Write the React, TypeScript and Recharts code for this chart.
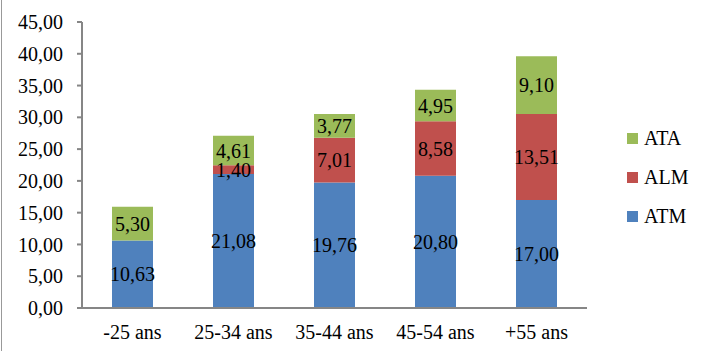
import React from "react";
import { Bar, BarChart, LabelList, Legend, XAxis, YAxis } from "recharts";

const categories = ["-25 ans", "25-34 ans", "35-44 ans", "45-54 ans", "+55 ans"];
const atm = [10.63, 21.08, 19.76, 20.8, 17.0];
const alm = [null, 1.4, 7.01, 8.58, 13.51];
const ata = [5.3, 4.61, 3.77, 4.95, 9.1];
const yTicks = [0, 5, 10, 15, 20, 25, 30, 35, 40, 45];

const data = categories.map((name, i) => ({
  name,
  idx: i,
  ATM: atm[i],
  ALM: alm[i],
  ATA: ata[i],
}));

const fmt = (v: any) => (v == null ? "" : Number(v).toFixed(2).replace(".", ","));

const font = "serif";
const axisColor = "#868686";

const legendItems = [
  { name: "ATA", color: "#9BBB59" },
  { name: "ALM", color: "#C0504D" },
  { name: "ATM", color: "#4F81BD" },
];

function LegendBox() {
  return (
    <div style={{ fontFamily: font, fontSize: 20, color: "#000", whiteSpace: "nowrap", width: 80 }}>
      {legendItems.map((it) => (
        <div key={it.name} style={{ height: 39, display: "flex", alignItems: "center" }}>
          <span
            style={{
              display: "inline-block",
              flexShrink: 0,
              width: 11,
              height: 11,
              background: it.color,
              marginRight: 6,
            }}
          />
          <span>{it.name}</span>
        </div>
      ))}
    </div>
  );
}

function App() {
  const labelStyle = { fontFamily: font, fontSize: 20, fill: "#000" };
  return (
    <div style={{ position: "fixed", left: 0, top: 0, width: 711, height: 351, background: "#fff" }}>
      <div style={{ position: "absolute", left: 1, top: 0, width: 1, height: 351, background: "#999" }} />
      <BarChart
        width={711}
        height={351}
        data={data}
        margin={{ top: 22, right: 124, bottom: 0, left: 0 }}
        barSize={41}
        style={{ fontFamily: font }}
      >
        <XAxis
          xAxisId="ticks"
          type="number"
          dataKey="idx"
          domain={[0, 5]}
          ticks={[0, 1, 2, 3, 4, 5]}
          height={0}
          tick={false}
          tickSize={5}
          axisLine={false}
          tickLine={{ stroke: axisColor, strokeWidth: 2 }}
        />
        <XAxis
          dataKey="name"
          height={43}
          tickLine={false}
          tickSize={5}
          tickMargin={12}
          axisLine={{ stroke: axisColor, strokeWidth: 2 }}
          tick={{ fontFamily: font, fontSize: 20, fill: "#000" }}
        />
        <YAxis
          width={82}
          domain={[0, 45]}
          ticks={yTicks}
          interval={0}
          tickFormatter={fmt}
          tickSize={5}
          tickMargin={14}
          axisLine={{ stroke: axisColor, strokeWidth: 2 }}
          tickLine={{ stroke: axisColor, strokeWidth: 2 }}
          tick={{ fontFamily: font, fontSize: 20, fill: "#000" }}
        />
        <Legend
          layout="vertical"
          align="right"
          verticalAlign="top"
          content={<LegendBox />}
          wrapperStyle={{ position: "absolute", left: 627, top: 119, width: 0 }}
        />
        <Bar dataKey="ATM" stackId="a" fill="#4F81BD" isAnimationActive={false}>
          <LabelList dataKey="ATM" position="center" formatter={fmt} style={labelStyle} />
        </Bar>
        <Bar dataKey="ALM" stackId="a" fill="#C0504D" isAnimationActive={false}>
          <LabelList dataKey="ALM" position="center" formatter={fmt} style={labelStyle} />
        </Bar>
        <Bar dataKey="ATA" stackId="a" fill="#9BBB59" isAnimationActive={false}>
          <LabelList dataKey="ATA" position="center" formatter={fmt} style={labelStyle} />
        </Bar>
      </BarChart>
    </div>
  );
}

export default App;
